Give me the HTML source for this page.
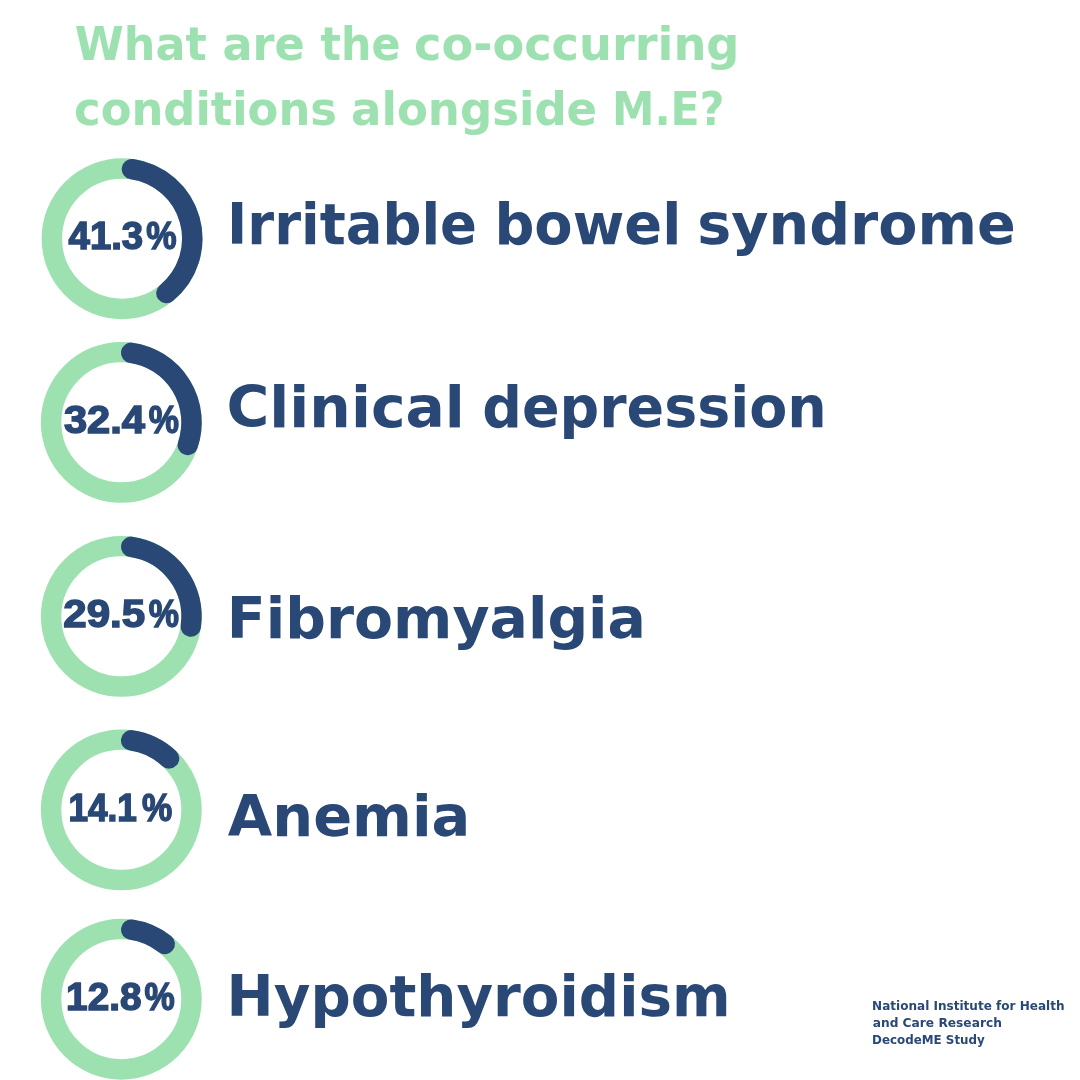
<!DOCTYPE html>
<html lang="en">
<head>
<meta charset="utf-8">
<title>What are the co-occurring conditions alongside M.E?</title>
<style>
html,body{margin:0;padding:0;background:#fff;}
body{width:1080px;height:1080px;overflow:hidden;position:relative;font-family:'DejaVu Sans','Liberation Sans',sans-serif;}
svg{position:absolute;left:0;top:0;display:block;}
text{font-family:'DejaVu Sans','Liberation Sans',sans-serif;font-weight:bold;white-space:pre;}
.t{fill:#9de1b0;font-size:45.5px;}
.l{fill:#294876;font-size:57.0px;}
.p{fill:#294876;font-size:38.2px;font-family:'Liberation Sans','DejaVu Sans',sans-serif;stroke:#294876;stroke-width:1.5px;}
.f{fill:#294876;font-size:12.0px;}
</style>
</head>
<body>
<svg width="1080" height="1080" viewBox="0 0 1080 1080">
<rect width="1080" height="1080" fill="#ffffff"/>
<g fill="none" stroke-width="20.45">
<circle cx="122.05" cy="238.7" r="70.22" stroke="#9de1b0"/>
<path d="M131.91 169.18 A70.22 70.22 0 0 1 166.42 293.12" stroke="#294876" stroke-linecap="round"/>
<circle cx="121.3" cy="422.35" r="70.22" stroke="#9de1b0"/>
<path d="M131.16 352.83 A70.22 70.22 0 0 1 187.79 444.94" stroke="#294876" stroke-linecap="round"/>
<circle cx="121.3" cy="616.35" r="70.22" stroke="#9de1b0"/>
<path d="M131.16 546.83 A70.22 70.22 0 0 1 190.78 626.52" stroke="#294876" stroke-linecap="round"/>
<circle cx="121.3" cy="809.85" r="70.22" stroke="#9de1b0"/>
<path d="M131.16 740.33 A70.22 70.22 0 0 1 169.09 758.40" stroke="#294876" stroke-linecap="round"/>
<circle cx="121.3" cy="999.2" r="70.22" stroke="#9de1b0"/>
<path d="M131.16 929.68 A70.22 70.22 0 0 1 164.73 944.02" stroke="#294876" stroke-linecap="round"/>
</g>
<text class="t" y="60.00"><tspan x="74.81" textLength="131.91" lengthAdjust="spacingAndGlyphs">What</tspan> <tspan x="222.41" textLength="82.27" lengthAdjust="spacingAndGlyphs">are</tspan> <tspan x="320.50" textLength="79.91" lengthAdjust="spacingAndGlyphs">the</tspan> <tspan x="414.05" textLength="325.42" lengthAdjust="spacingAndGlyphs">co-occurring</tspan></text>
<text class="t" y="124.60"><tspan x="74.10" textLength="262.87" lengthAdjust="spacingAndGlyphs">conditions</tspan> <tspan x="351.09" textLength="246.10" lengthAdjust="spacingAndGlyphs">alongside</tspan> <tspan x="611.97" textLength="112.48" lengthAdjust="spacingAndGlyphs">M.E?</tspan></text>
<text class="l" y="243.75"><tspan x="227.05" textLength="250.00" lengthAdjust="spacingAndGlyphs">Irritable</tspan> <tspan x="494.39" textLength="186.92" lengthAdjust="spacingAndGlyphs">bowel</tspan> <tspan x="697.32" textLength="318.32" lengthAdjust="spacingAndGlyphs">syndrome</tspan></text>
<text class="l" y="426.70"><tspan x="226.56" textLength="238.34" lengthAdjust="spacingAndGlyphs">Clinical</tspan> <tspan x="482.27" textLength="344.49" lengthAdjust="spacingAndGlyphs">depression</tspan></text>
<text class="l" y="637.50"><tspan x="226.85" textLength="419.17" lengthAdjust="spacingAndGlyphs">Fibromyalgia</tspan></text>
<text class="l" y="836.40"><tspan x="227.80" textLength="242.56" lengthAdjust="spacingAndGlyphs">Anemia</tspan></text>
<text class="l" y="1016.00"><tspan x="226.60" textLength="504.02" lengthAdjust="spacingAndGlyphs">Hypothyroidism</tspan></text>
<text class="p" y="248.95"><tspan x="68.55" textLength="74.66" lengthAdjust="spacingAndGlyphs">41.3</tspan><tspan x="146.22" textLength="30.32" lengthAdjust="spacingAndGlyphs">%</tspan></text>
<text class="p" y="432.95"><tspan x="63.95" textLength="81.09" lengthAdjust="spacingAndGlyphs">32.4</tspan><tspan x="148.67" textLength="30.21" lengthAdjust="spacingAndGlyphs">%</tspan></text>
<text class="p" y="626.75"><tspan x="63.29" textLength="81.81" lengthAdjust="spacingAndGlyphs">29.5</tspan><tspan x="148.67" textLength="30.21" lengthAdjust="spacingAndGlyphs">%</tspan></text>
<text class="p" y="820.95"><tspan x="68.45" textLength="68.48" lengthAdjust="spacingAndGlyphs">14.1</tspan><tspan x="142.02" textLength="30.21" lengthAdjust="spacingAndGlyphs">%</tspan></text>
<text class="p" y="1009.95"><tspan x="66.13" textLength="75.28" lengthAdjust="spacingAndGlyphs">12.8</tspan><tspan x="144.42" textLength="30.21" lengthAdjust="spacingAndGlyphs">%</tspan></text>
<text class="f" y="1010.00"><tspan x="872.10" textLength="192.45" lengthAdjust="spacingAndGlyphs">National Institute for Health</tspan></text>
<text class="f" y="1026.70"><tspan x="872.69" textLength="129.17" lengthAdjust="spacingAndGlyphs">and Care Research</tspan></text>
<text class="f" y="1044.00"><tspan x="872.11" textLength="112.71" lengthAdjust="spacingAndGlyphs">DecodeME Study</tspan></text>
</svg>
</body>
</html>
